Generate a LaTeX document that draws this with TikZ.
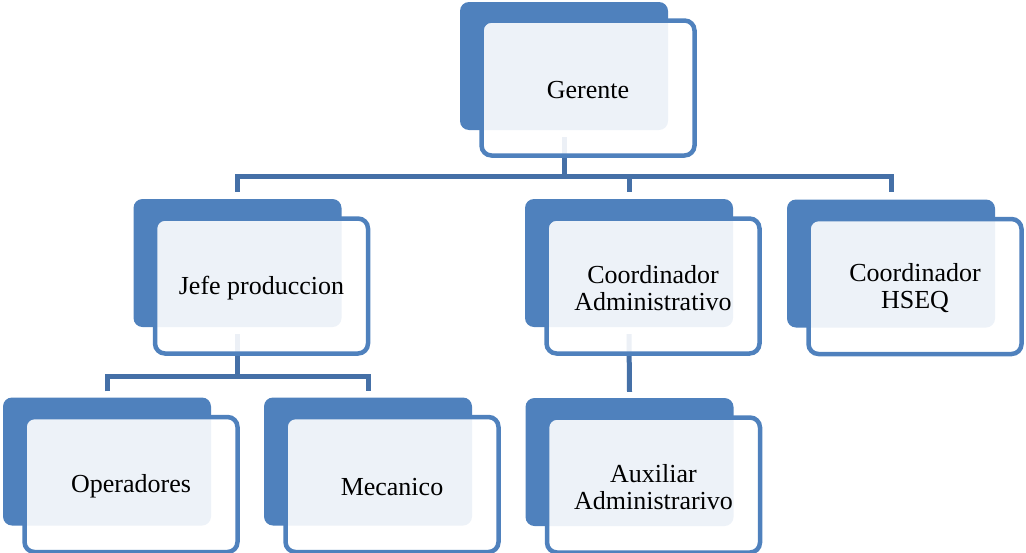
\documentclass[tikz,border=0pt]{standalone}
\usepackage{fontspec}
\setmainfont{Liberation Serif}
\definecolor{boxblue}{HTML}{4F81BD}
\definecolor{connblue}{HTML}{4570A7}
\newcommand\mystrut{\rule[-1pt]{0pt}{23pt}}
\tikzset{
  backbox/.style={rectangle, rounded corners=9pt, fill=boxblue, draw=none,
    minimum width=208pt, minimum height=128pt, inner sep=0pt},
  frontbox/.style={rectangle, rounded corners=10pt, fill=white, fill opacity=0.9,
    text opacity=1, draw=boxblue, line width=4.5pt,
    minimum width=213pt, minimum height=135pt, inner sep=0pt, align=center,
    font=\fontsize{26}{27}\selectfont},
  conn/.style={draw=connblue, line width=5pt},
}
\begin{document}
\begin{tikzpicture}[x=1pt,y=-1pt]
\useasboundingbox (0,0) rectangle (1026,552);
% back boxes
\path
  (564,66)    coordinate (gC)
  (237.5,263) coordinate (jC)
  (629,263)   coordinate (caC)
  (891,263.5) coordinate (hC)
  (107,461.5) coordinate (oC)
  (368,461.5) coordinate (mC)
  (629.5,462) coordinate (aC);
\node[backbox] (gB) at (gC) {};
\node[backbox] (jB) at (jC) {};
\node[backbox] (caB) at (caC) {};
\node[backbox] (hB) at (hC) {};
\node[backbox] (oB) at (oC) {};
\node[backbox] (mB) at (mC) {};
\node[backbox] (aB) at (aC) {};
% connectors
\coordinate (bar1) at (564,176);
\coordinate (bar2) at (237.5,376);
\draw[conn] ([yshift=-7pt]gB.south) -- (bar1);
\draw[conn] ([yshift=7pt]jB.north) |- (bar1) -| ([yshift=7pt]hB.north);
\draw[conn] (bar1 -| caB.north) -- ([yshift=7pt]caB.north);
\draw[conn] ([yshift=-7pt]jB.south) -- (bar2);
\draw[conn] ([yshift=6pt]oB.north) |- (bar2) -| ([yshift=6pt]mB.north);
\draw[conn] ([yshift=-7pt]caB.south) -- ([yshift=6pt]aB.north);
% front boxes
\node[frontbox] (g) at ([shift={(24pt,-22pt)}]gB.center) {\mystrut Gerente};
\node[frontbox] (j) at ([shift={(24pt,-23pt)}]jB.center) {\mystrut Jefe produccion};
\node[frontbox] (ca) at ([shift={(24pt,-23pt)}]caB.center) {\mystrut Coordinador\\Administrativo\mystrut};
\node[frontbox] (h) at ([shift={(24pt,-23pt)}]hB.center) {\mystrut Coordinador\\HSEQ\mystrut};
\node[frontbox] (o) at ([shift={(24pt,-23pt)}]oB.center) {\mystrut Operadores};
\node[frontbox] (m) at ([shift={(24pt,-23pt)}]mB.center) {\mystrut Mecanico};
\node[frontbox] (a) at ([shift={(24pt,-23pt)}]aB.center) {\mystrut Auxiliar\\Administrarivo\mystrut};
\end{tikzpicture}
\end{document}
